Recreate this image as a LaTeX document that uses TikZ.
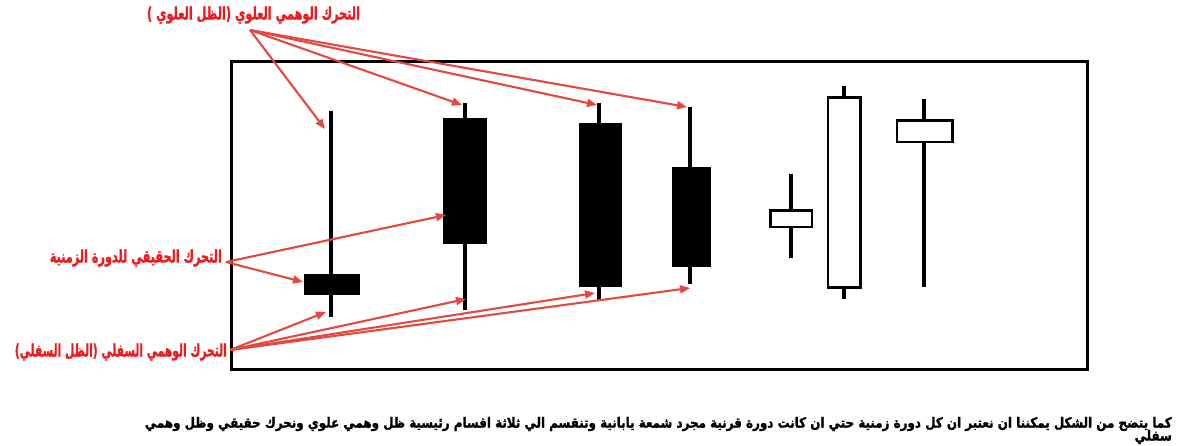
\documentclass[tikz,border=0pt]{standalone}
\usepackage{fontspec}
\usepackage{graphicx}
\newfontfamily\arabicfont[Script=Arabic,BoldFeatures={FakeBold=1.6}]{DejaVu Sans}
\TeXXeTstate=1
\usetikzlibrary{arrows.meta}
\definecolor{arrowred}{RGB}{229,72,64}
\definecolor{labelred}{RGB}{240,25,30}
\newsavebox\noteboxA
\newlength\noteAwd
\begin{document}
\sbox\noteboxA{\arabicfont\bfseries\fontsize{14}{16}\selectfont\beginR كما يتضح من الشكل يمكننا ان نعتبر ان كل دورة زمنية حتي ان كانت دورة قرنية مجرد شمعة يابانية وتنقسم الي ثلاثة اقسام رئيسية ظل وهمي علوي ونحرك حقيقي وظل وهمي\endR}%
\setlength\noteAwd{\wd\noteboxA}%
\begin{tikzpicture}[x=1pt,y=-1pt,
  frame/.style={line width=3pt,draw=black},
  wick/.style={line width=4pt,draw=black},
  blackbody/.style={fill=black},
  whitebody/.style={line width=2.6pt,draw=black,fill=white},
  pointer/.style={draw=arrowred,line width=2.1pt,-{Triangle[length=10pt,width=8pt]}},
  lbl/.style={inner sep=0pt,text=labelred,font=\arabicfont\bfseries\fontsize{17}{19}\selectfont},
  note/.style={inner sep=0pt,text=black,font=\arabicfont\bfseries\fontsize{14}{16}\selectfont}]
\useasboundingbox (0,0) rectangle (1179,446);
% frame
\draw[frame] (231,62) rectangle (1087,370);
% candle 1
\draw[wick] (330.7,110.7) -- (330.7,316.7);
\fill[blackbody] (304,274) rectangle (360,295);
% candle 2
\draw[wick] (465,102.7) -- (465,310);
\fill[blackbody] (443.3,118.3) rectangle (487.3,244.3);
% candle 3
\draw[wick] (599,102.7) -- (599,300);
\fill[blackbody] (579,123.3) rectangle (622,286.7);
% candle 4
\draw[wick] (690,106.7) -- (690,284);
\fill[blackbody] (672.3,167.3) rectangle (710.7,266.7);
% candle 5
\draw[wick] (791,174) -- (791,257.7);
\draw[whitebody] (770.5,210.5) rectangle (812,227);
% candle 6
\draw[wick] (844,86) -- (844,299.3);
\draw[whitebody] (828,97.5) rectangle (860.5,287.5);
% candle 7
\draw[wick] (924.3,99) -- (924.3,287.3);
\draw[whitebody] (897,120.3) rectangle (952.3,142);
% labels
\node[lbl,anchor=center] (upper) at (253.5,15) {\resizebox{213pt}{\height}{\beginR التحرك الوهمي العلوي (الظل العلوي )\endR}};
\node[lbl,anchor=east] (real) at (222,258) {\resizebox{172pt}{\height}{\beginR التحرك الحقيقي للدورة الزمنية\endR}};
\node[lbl,anchor=east] (lower) at (227,352) {\resizebox{212pt}{\height}{\beginR التحرك الوهمي السفلي (الظل السفلي)\endR}};
% arrow origins and targets
\coordinate (uo) at (250,30);
\coordinate (ro) at (226,262);
\coordinate (lo) at (230,350);
\coordinate (u1) at (325,129);
\coordinate (u2) at (462,105);
\coordinate (u3) at (597,105);
\coordinate (u4) at (687,107);
\coordinate (r1) at (446,215);
\coordinate (r2) at (303,282);
\coordinate (l1) at (326,312);
\coordinate (l2) at (466,299);
\coordinate (l3) at (595,293);
\coordinate (l4) at (690,288);
\foreach \t in {u1,u2,u3,u4} \draw[pointer] (uo) -- (\t);
\foreach \t in {r1,r2} \draw[pointer] (ro) -- (\t);
\foreach \t in {l1,l2,l3,l4} \draw[pointer] (lo) -- (\t);
% note
\pgfmathsetmacro\notesx{1027/\noteAwd}
\node[note,anchor=east] (noteA) at (1172,424) {\scalebox{\notesx}[1]{\usebox\noteboxA}};
\node[note,anchor=east] (noteB) at (1172,437) {\scalebox{\notesx}[1]{\beginR سفلي\endR}};
\end{tikzpicture}
\end{document}
